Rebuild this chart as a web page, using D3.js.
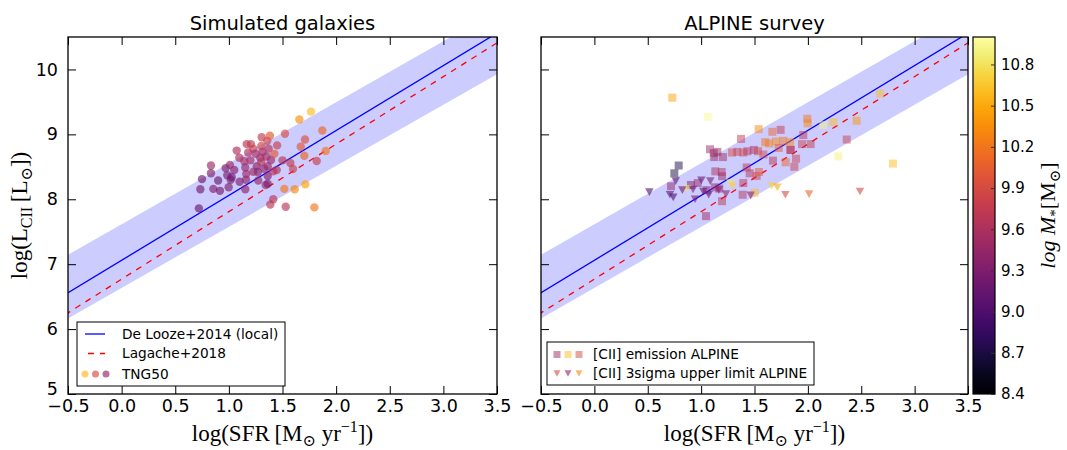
<!DOCTYPE html>
<html>
<head>
<meta charset="utf-8">
<script src="https://cdn.jsdelivr.net/npm/d3@7"></script>
<style>
  body { margin: 0; background: #fff; }
  text { font-family: "DejaVu Sans", sans-serif; fill: #000; }
  .math { font-family: "Liberation Serif", "DejaVu Serif", serif; }
</style>
</head>
<body>
<div id="chart"></div>
<script>
// ---- data ----
// TNG50 simulated galaxies: log SFR, log L[CII], log M*
var simSFR  = [0.72,0.734,0.749,0.833,0.833,0.855,0.917,0.97,0.985,0.998,1.01,1.017,1.026,1.073,1.097,1.144,1.153,1.153,1.16,1.162,1.166,1.206,1.228,1.228,1.26,1.27,1.274,1.293,1.302,1.302,1.306,1.315,1.343,1.358,1.362,1.362,1.362,1.371,1.383,1.386,1.393,1.414,1.414,1.424,1.446,1.517,1.523,1.53,1.573,1.598,1.614,1.657,1.67,1.703,1.71,1.713,1.766,1.797,1.819,1.871,1.903,1.05,1.2,1.33,1.1,1.25,1.45,1.35,0.9,1.18,1.5];
var simLCII = [7.86,8.155,8.31,8.52,8.40,8.16,8.13,8.48,8.37,8.185,8.53,8.30,8.34,8.75,8.64,8.585,8.49,8.155,8.30,8.39,8.85,8.85,8.78,8.425,8.51,8.42,8.29,8.64,8.82,8.575,8.955,8.73,8.22,8.90,8.51,8.36,8.24,8.78,8.98,7.92,8.605,8.43,8.0,8.70,8.45,8.16,9.01,7.885,8.56,8.467,8.155,9.23,8.81,8.67,8.92,8.23,9.35,7.875,8.59,9.06,8.745,8.45,8.6,8.47,8.27,8.7,8.83,8.66,8.29,8.72,8.6];
var simMass = [9.2,9.25,9.2,9.5,9.3,9.35,9.25,9.3,9.3,9.3,9.5,9.3,9.2,9.6,9.6,9.6,9.45,9.4,9.4,9.5,9.7,9.75,9.8,9.5,9.4,9.4,9.45,9.5,9.85,9.7,9.75,9.6,9.5,9.8,9.5,9.35,9.3,9.7,10.0,9.7,9.5,9.7,9.7,10.0,9.65,10.2,9.9,9.7,9.75,9.8,10.3,10.35,10.0,10.1,9.95,10.45,10.6,10.2,9.8,10.1,10.2,9.35,9.55,9.45,9.3,9.6,9.8,9.55,9.2,9.6,9.7];

// ALPINE [CII] detections
var detSFR  = [0.73,1.062,1.539,1.667,1.745,1.374,1.083,1.152,1.118,1.205,1.123,1.289,1.339,1.395,1.433,1.495,1.533,1.583,1.601,1.636,1.701,1.77,1.833,1.727,1.833,1.673,1.792,1.873,1.889,1.133,1.193,1.196,0.79,0.749,1.427,1.455,1.52,1.395,1.389,1.542,1.502,1.196,1.046,0.718,0.905,0.968,1.13,1.17,1.052,2.676,1.995,1.998,2.145,2.238,2.457,1.957,1.945,2.026,1.842,2.364,2.285,2.797];
var detLCII = [9.565,9.27,9.08,9.04,9.07,8.93,8.77,8.73,8.71,8.65,8.65,8.72,8.73,8.72,8.74,8.76,8.74,8.69,8.88,8.86,8.89,8.90,8.88,8.79,8.76,8.595,8.57,8.50,8.625,8.43,8.42,8.355,8.52,8.40,8.49,8.40,8.36,8.25,8.07,8.42,8.10,7.97,7.74,8.20,8.22,8.25,8.185,8.165,8.14,9.63,9.24,9.17,9.145,9.19,9.21,8.99,8.85,8.85,8.76,8.92,8.66,8.55];
var detMass = [10.45,10.95,10.3,10.1,9.75,9.75,9.5,9.45,9.4,9.55,9.5,9.9,9.8,9.85,9.7,9.6,9.85,9.9,10.2,10.25,10.3,10.2,10.3,10.0,9.8,9.7,10.1,9.8,9.8,9.6,9.65,9.5,8.7,8.65,9.75,9.7,9.8,9.7,9.65,10.0,10.6,9.7,9.5,9.4,9.3,9.4,9.5,9.4,9.3,10.6,10.2,10.3,10.9,10.6,10.4,9.7,9.8,9.75,9.6,9.8,10.9,10.6];

// ALPINE [CII] 3 sigma upper limits
var limSFR  = [0.515,0.762,0.708,0.739,0.868,0.824,0.924,1.002,1.02,1.071,1.086,1.165,1.273,1.296,1.464,1.661,1.714,1.789,2.011,2.488,0.943,1.233];
var limLCII = [8.11,8.28,8.07,8.03,8.16,8.14,8.15,8.29,8.12,8.07,8.28,8.14,8.25,8.205,8.06,8.205,8.185,8.07,8.08,8.12,8.0,8.08];
var limMass = [9.0,9.1,9.1,9.0,10.8,9.2,9.3,9.2,9.2,9.2,9.3,9.4,10.8,10.7,9.4,10.7,10.5,9.9,10.1,9.9,9.25,9.4];

// relations: log L = slope * log SFR + intercept
var deLooze = {slope: 1.0, intercept: 7.06};
var band    = {slope: 0.94, intercept: 7.125, half: 0.49};
var lagache = {slope: 1.04, intercept: 6.77};

var xTicks  = [-0.5, 0, 0.5, 1, 1.5, 2, 2.5, 3, 3.5];
var yTicks  = [5, 6, 7, 8, 9, 10];
var cbTicks = [8.4, 8.7, 9.0, 9.3, 9.6, 9.9, 10.2, 10.5, 10.8];

// ---- layout ----
var W = 1067, H = 450;
var plotTop = 37, plotBottom = 394;
var panels = [
  {left: 68,  right: 497, title: "Simulated galaxies", ylabels: true},
  {left: 541, right: 968, title: "ALPINE survey",      ylabels: false}
];
var cb = {left: 973, right: 995};

var svg = d3.select("#chart").append("svg")
    .attr("width", W).attr("height", H);

var y = d3.scaleLinear().domain([5, 10.5]).range([plotBottom, plotTop]);
var color = d3.scaleSequential(d3.interpolateInferno).domain([8.4, 11.0]);
var fmt1 = d3.format(".1f");

function triPath(s) {
  var h = s * 0.9;
  return "M" + (-s/2) + "," + (-h/2) + "L" + (s/2) + "," + (-h/2) + "L0," + (h/2) + "Z";
}

panels.forEach(function(p, idx) {
  var x = d3.scaleLinear().domain([-0.5, 3.5]).range([p.left, p.right]);

  svg.append("clipPath").attr("id", "clip" + idx)
    .append("rect")
      .attr("x", p.left).attr("y", plotTop)
      .attr("width", p.right - p.left).attr("height", plotBottom - plotTop);

  var inner = svg.append("g").attr("clip-path", "url(#clip" + idx + ")");
  var ends = [-1, 4];

  // shaded scatter band
  inner.append("path")
    .datum(ends)
    .attr("d", d3.area()
      .x(function(d) { return x(d); })
      .y0(function(d) { return y(band.slope * d + band.intercept - band.half); })
      .y1(function(d) { return y(band.slope * d + band.intercept + band.half); }))
    .attr("fill", "#0000ff").attr("fill-opacity", 0.2);

  inner.append("path")
    .datum(ends)
    .attr("d", d3.line()
      .x(function(d) { return x(d); })
      .y(function(d) { return y(deLooze.slope * d + deLooze.intercept); }))
    .attr("stroke", "#0000ff").attr("stroke-width", 1.3).attr("fill", "none");

  inner.append("path")
    .datum(ends)
    .attr("d", d3.line()
      .x(function(d) { return x(d); })
      .y(function(d) { return y(lagache.slope * d + lagache.intercept); }))
    .attr("stroke", "#ff0000").attr("stroke-width", 1.3).attr("fill", "none")
    .attr("stroke-dasharray", "6,6");

  if (idx === 0) {
    inner.selectAll("circle.sim")
      .data(d3.range(simSFR.length))
      .enter().append("circle")
        .attr("class", "sim")
        .attr("cx", function(i) { return x(simSFR[i]); })
        .attr("cy", function(i) { return y(simLCII[i]); })
        .attr("r", 4.2)
        .attr("fill", function(i) { return color(simMass[i]); })
        .attr("fill-opacity", 0.65);
  } else {
    inner.selectAll("rect.det")
      .data(d3.range(detSFR.length))
      .enter().append("rect")
        .attr("class", "det")
        .attr("x", function(i) { return x(detSFR[i]) - 4; })
        .attr("y", function(i) { return y(detLCII[i]) - 4; })
        .attr("width", 8).attr("height", 8)
        .attr("fill", function(i) { return color(detMass[i]); })
        .attr("fill-opacity", 0.5);
    inner.selectAll("path.lim")
      .data(d3.range(limSFR.length))
      .enter().append("path")
        .attr("class", "lim")
        .attr("transform", function(i) { return "translate(" + x(limSFR[i]) + "," + y(limLCII[i]) + ")"; })
        .attr("d", triPath(8.5))
        .attr("fill", function(i) { return color(limMass[i]); })
        .attr("fill-opacity", 0.6);
  }

  // axes, ticks inward on all four sides
  var tl = 8;
  var gb = svg.append("g").attr("transform", "translate(0," + plotBottom + ")")
    .call(d3.axisBottom(x).tickValues(xTicks).tickFormat(fmt1).tickSizeInner(-tl).tickSizeOuter(0).tickPadding(6));
  var gt = svg.append("g").attr("transform", "translate(0," + plotTop + ")")
    .call(d3.axisTop(x).tickValues(xTicks).tickFormat("").tickSizeInner(-tl).tickSizeOuter(0));
  var gl = svg.append("g").attr("transform", "translate(" + p.left + ",0)")
    .call(d3.axisLeft(y).tickValues(yTicks).tickFormat(p.ylabels ? d3.format("d") : "").tickSizeInner(-tl).tickSizeOuter(0).tickPadding(10));
  var gr = svg.append("g").attr("transform", "translate(" + p.right + ",0)")
    .call(d3.axisRight(y).tickValues(yTicks).tickFormat("").tickSizeInner(-tl).tickSizeOuter(0));
  [gb, gt, gl, gr].forEach(function(g) {
    g.select(".domain").remove();
    g.selectAll("line").attr("stroke", "#000");
    g.selectAll("text").attr("font-family", "DejaVu Sans").attr("font-size", 17.5).attr("fill", "#000");
  });
  // lowest y label sits a touch higher so it clears the x labels
  gl.selectAll(".tick text").filter(function(d) { return d === 5; }).attr("dy", "0");

  svg.append("rect")
    .attr("x", p.left).attr("y", plotTop)
    .attr("width", p.right - p.left).attr("height", plotBottom - plotTop)
    .attr("fill", "none").attr("stroke", "#000").attr("stroke-width", 1.3);

  // title
  svg.append("text")
    .attr("x", (p.left + p.right) / 2).attr("y", 30)
    .attr("text-anchor", "middle").attr("font-size", 19.5)
    .text(p.title);

  // x label
  var xl = svg.append("text").attr("class", "math")
    .attr("x", (p.left + p.right) / 2).attr("y", 441)
    .attr("text-anchor", "middle").attr("font-size", 23);
  xl.append("tspan").text("log(SFR\u2009[M");
  xl.append("tspan").attr("font-size", 16).attr("dy", 5).text("\u2299");
  xl.append("tspan").attr("dy", -5).text(" yr");
  xl.append("tspan").attr("font-size", 16).attr("dy", -9).text("\u22121");
  xl.append("tspan").attr("dy", 9).text("])");
});

// y label
var yl = svg.append("text").attr("class", "math")
  .attr("transform", "translate(27," + ((plotTop + plotBottom) / 2) + ") rotate(-90)")
  .attr("text-anchor", "middle").attr("font-size", 23);
yl.append("tspan").text("log(L");
yl.append("tspan").attr("font-size", 16).attr("dy", 5).text("CII");
yl.append("tspan").attr("dy", -5).text("\u2009[L");
yl.append("tspan").attr("font-size", 16).attr("dy", 5).text("\u2299");
yl.append("tspan").attr("dy", -5).text("])");

// ---- legends ----
var leg1 = svg.append("g");
leg1.append("rect").attr("x", 77).attr("y", 322).attr("width", 208).attr("height", 64)
  .attr("fill", "#fff").attr("stroke", "#000").attr("stroke-width", 1);
leg1.append("line").attr("x1", 85).attr("x2", 105).attr("y1", 334).attr("y2", 334)
  .attr("stroke", "#0000ff").attr("stroke-width", 1.3);
leg1.append("line").attr("x1", 85).attr("x2", 105).attr("y1", 353.5).attr("y2", 353.5)
  .attr("stroke", "#ff0000").attr("stroke-width", 1.3).attr("stroke-dasharray", "6,6").attr("stroke-dashoffset", -3);
[10.6, 9.9, 9.45].forEach(function(m, i) {
  leg1.append("circle").attr("cx", 85 + i * 10.5).attr("cy", 374).attr("r", 3.5)
    .attr("fill", color(m)).attr("fill-opacity", 0.65);
});
["De Looze+2014 (local)", "Lagache+2018", "TNG50"].forEach(function(t, i) {
  leg1.append("text").attr("x", 122).attr("y", [334, 353.5, 374][i])
    .attr("dy", "0.35em").attr("font-size", 13.7).text(t);
});

var leg2 = svg.append("g");
leg2.append("rect").attr("x", 547).attr("y", 342).attr("width", 267).attr("height", 43)
  .attr("fill", "#fff").attr("stroke", "#000").attr("stroke-width", 1);
[9.5, 10.6, 9.9].forEach(function(m, i) {
  leg2.append("rect").attr("x", 557 + i * 11 - 3.5).attr("y", 354.5 - 3.5).attr("width", 7).attr("height", 7)
    .attr("fill", color(m)).attr("fill-opacity", 0.5);
});
[9.9, 9.4, 10.3].forEach(function(m, i) {
  leg2.append("path").attr("transform", "translate(" + (557 + i * 11) + ",373.5)")
    .attr("d", triPath(7)).attr("fill", color(m)).attr("fill-opacity", 0.6);
});
["[CII] emission ALPINE", "[CII] 3sigma upper limit ALPINE"].forEach(function(t, i) {
  leg2.append("text").attr("x", 593).attr("y", [354.5, 373.5][i])
    .attr("dy", "0.35em").attr("font-size", 13.7).text(t);
});

// ---- colour bar ----
var cy = d3.scaleLinear().domain(color.domain()).range([plotBottom, plotTop]);
var grad = svg.append("defs").append("linearGradient").attr("id", "cbgrad")
  .attr("x1", 0).attr("y1", 1).attr("x2", 0).attr("y2", 0);
d3.range(0, 1.001, 0.05).forEach(function(t) {
  grad.append("stop").attr("offset", t).attr("stop-color", d3.interpolateInferno(t));
});
svg.append("rect").attr("x", cb.left).attr("y", plotTop)
  .attr("width", cb.right - cb.left).attr("height", plotBottom - plotTop)
  .attr("fill", "url(#cbgrad)").attr("stroke", "#000").attr("stroke-width", 1.2);
var gcb = svg.append("g").attr("transform", "translate(" + cb.right + ",0)")
  .call(d3.axisRight(cy).tickValues(cbTicks).tickFormat(fmt1).tickSizeInner(-4).tickSizeOuter(0).tickPadding(6));
gcb.select(".domain").remove();
gcb.selectAll("line").attr("stroke", "#333");
gcb.selectAll("text").attr("font-family", "DejaVu Sans").attr("font-size", 15).attr("fill", "#000");

var cl = svg.append("text").attr("class", "math")
  .attr("transform", "translate(1055," + ((plotTop + plotBottom) / 2) + ") rotate(-90)")
  .attr("text-anchor", "middle").attr("font-size", 22);
cl.append("tspan").attr("font-style", "italic").text("log M");
cl.append("tspan").attr("font-size", 15).attr("dy", 5).text("*");
cl.append("tspan").attr("dy", -5).text("[M");
cl.append("tspan").attr("font-size", 15).attr("dy", 5).text("\u2299");
cl.append("tspan").attr("dy", -5).text("]");
</script>
</body>
</html>
